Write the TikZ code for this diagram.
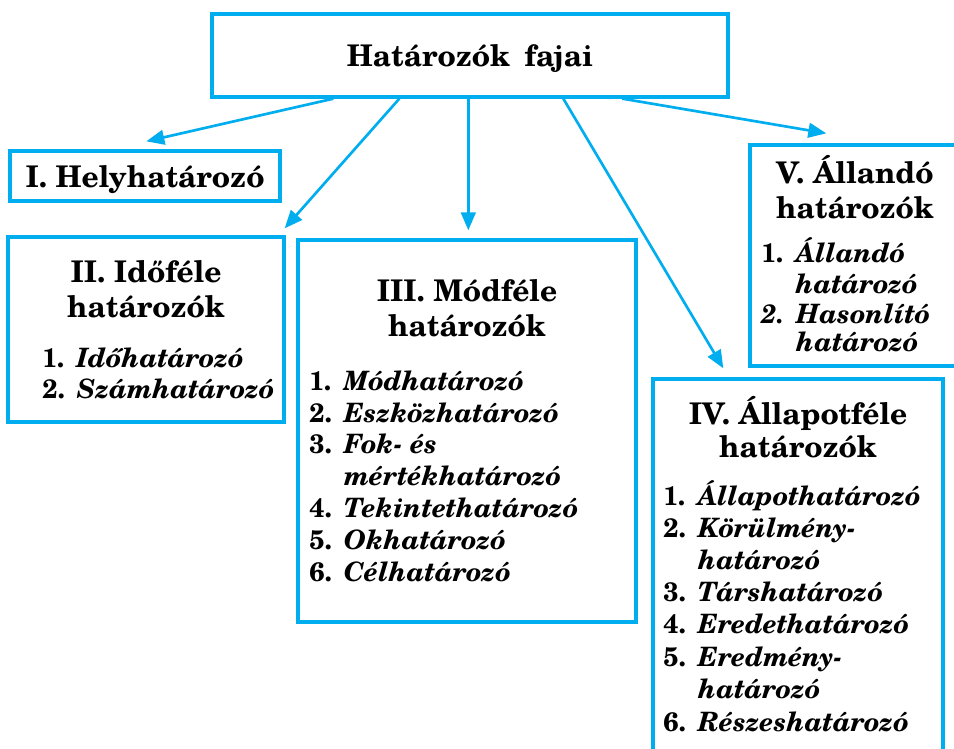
\documentclass[tikz,border=0pt]{standalone}
\usepackage{fontspec}
\setmainfont{TeX Gyre Schola}
\usetikzlibrary{arrows.meta,fit,calc}
\definecolor{hblue}{RGB}{0,174,239}
\newcommand\hfnt{\fontsize{22.4}{26}\selectfont\bfseries}
\newcommand\ifnt{\fontsize{20}{24}\selectfont\bfseries}
\newcommand\nsp{\hspace{0.45em}}
\begin{document}
\begin{tikzpicture}[x=0.75pt,y=-0.75pt,
  box/.style={draw=hblue,line width=2.5pt,inner sep=0pt},
  arr/.style={draw=hblue,line width=2pt,-{Triangle[length=13.5pt,width=11pt]}},
  head/.style={inner sep=0pt,anchor=base,font=\hfnt},
  item/.style={inner sep=0pt,anchor=base west,font=\ifnt}]
\useasboundingbox (0,0) rectangle (954,749);
\clip (0,0) rectangle (954,749);
\fill[white] (0,0) rectangle (954,749);
% boxes
\node[box,fit={(212,14) (728,97)}] (top) {};
\node[box,fit={(10,151) (280,201)}] (b1) {};
\node[box,fit={(8,237) (284,422)}] (b2) {};
\node[box,fit={(298,240) (636,622)}] (b3) {};
\node[box,fit={(653,379) (943,770)}] (b4) {};
\node[box,fit={(750,145) (970,366)}] (b5) {};
% title
\node[head] (t0) at (470,67) {Határozók\hspace{0.2em} fajai};
% I
\node[head] (t1) at (145,187) {I. Helyhatározó};
% II
\node[head] (h2a) at (146,282) {II. Időféle};
\node[head] (h2b) at (146,317) {határozók};
\node[item] (i21) at (42,367) {1.\nsp\textit{Időhatározó}};
\node[item] (i22) at (42,398) {2.\nsp\textit{Számhatározó}};
% III
\node[head] (h3a) at (467,301) {III. Módféle};
\node[head] (h3b) at (467,336) {határozók};
\node[item] (i31) at (309,390) {1.\nsp\textit{Módhatározó}};
\node[item] (i32) at (309,422) {2.\nsp\textit{Eszközhatározó}};
\node[item] (i33) at (309,453) {3.\nsp\textit{Fok- és}};
\node[item] (i33b) at (309,485) {\phantom{3.\nsp}\textit{mértékhatározó}};
\node[item] (i34) at (309,517) {4.\nsp\textit{Tekintethatározó}};
\node[item] (i35) at (309,549) {5.\nsp\textit{Okhatározó}};
\node[item] (i36) at (309,581) {6.\nsp\textit{Célhatározó}};
% IV
\node[head] (h4a) at (798,424) {IV. Állapotféle};
\node[head] (h4b) at (798,457) {határozók};
\node[item] (i41) at (663,505) {1.\nsp\textit{Állapothatározó}};
\node[item] (i42) at (663,537) {2.\nsp\textit{Körülmény-}};
\node[item] (i42b) at (663,569) {\phantom{2.\nsp}\textit{határozó}};
\node[item] (i43) at (663,601) {3.\nsp\textit{Társhatározó}};
\node[item] (i44) at (663,633) {4.\nsp\textit{Eredethatározó}};
\node[item] (i45) at (663,666) {5.\nsp\textit{Eredmény-}};
\node[item] (i45b) at (663,698) {\phantom{5.\nsp}\textit{határozó}};
\node[item] (i46) at (663,731) {6.\nsp\textit{Részeshatározó}};
% V
\node[head] (h5a) at (855,184) {V. Állandó};
\node[head] (h5b) at (855,218) {határozók};
\node[item] (i51) at (761,262) {1.\nsp\textit{Állandó}};
\node[item] (i51b) at (761,293) {\phantom{1.\nsp}\textit{határozó}};
\node[item] (i52) at (761,323) {\textit{2.}\nsp\textit{Hasonlító}};
\node[item] (i52b) at (761,351) {\phantom{2.\nsp}\textit{határozó}};
% arrows
\draw[arr] ($(top.south west)+(123,0)$) -- ($(b1.north west)+(138,-8)$);
\draw[arr] ($(top.south west)+(189,0)$) -- ($(b2.north east)+(-1,-7)$);
\draw[arr] ($(top.south west)+(258,0)$) -- ($(b3.north west)+(172,-8)$);
\draw[arr] ($(top.south west)+(353,0)$) -- ($(b4.north west)+(72,-9)$);
\draw[arr] ($(top.south west)+(412,0)$) -- ($(b5.north west)+(78,-10)$);
\end{tikzpicture}
\end{document}
